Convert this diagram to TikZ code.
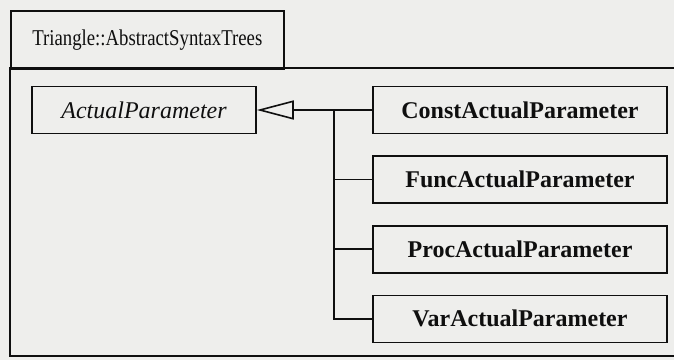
\documentclass[tikz,border=0pt]{standalone}
\usepackage{xcolor}
\usepackage{fontspec}
\setmainfont{Liberation Serif}
\newfontfamily\pkgfont[FakeStretch=0.83]{Liberation Serif}
\usetikzlibrary{arrows.meta, positioning}

\definecolor{paper}{RGB}{238,238,236}
\definecolor{ink}{RGB}{15,15,15}

\begin{document}
\begin{tikzpicture}[x=1pt, y=-1pt, line width=1.6pt, draw=ink, text=ink,
    node distance=21pt,
    cls/.style={draw, rectangle, minimum width=294pt, minimum height=47pt,
      inner sep=0pt, font=\fontsize{24}{28}\selectfont\bfseries},
    gen/.style={-{Triangle[open, length=37pt, width=19pt, line width=1.6pt]}}]

    % page and frame of the package
    \fill[paper] (0,0) rectangle (674,360);
    \useasboundingbox (0,0) rectangle (674,360);
    \node[draw, rectangle, anchor=north west, minimum width=273pt, minimum height=58pt,
      inner sep=0pt, font=\pkgfont\fontsize{22.6}{26}\selectfont] (pkg) at (10,10)
      {Triangle::AbstractSyntaxTrees};
    \draw (674,68) -- (10,68) -- (10,356) -- (674,356);

    % classes
    \node[draw, rectangle, minimum width=224pt, minimum height=47pt, inner sep=0pt,
      font=\fontsize{24}{28}\selectfont\itshape] (ap) at (144,110) {ActualParameter};
    \node[cls] (const) at (520,110) {ConstActualParameter};
    \node[cls] (func) [below=of const] {FuncActualParameter};
    \node[cls] (proc) [below=of func] {ProcActualParameter};
    \node[cls] (var) [below=of proc] {VarActualParameter};

    % generalisation
    \coordinate (trunk) at (334,110);
    \draw[gen] (const.west) -- (ap.east);
    \foreach \c in {func, proc, var}
        \draw (trunk) |- (\c.west);
\end{tikzpicture}
\end{document}
